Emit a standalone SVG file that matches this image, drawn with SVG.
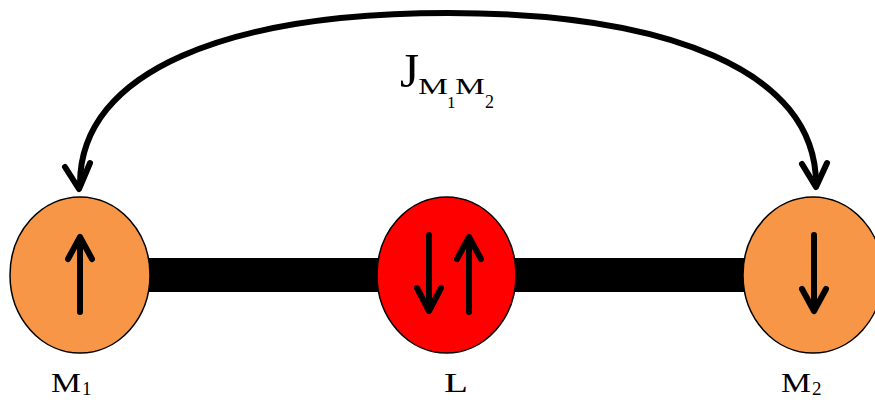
<svg xmlns="http://www.w3.org/2000/svg" width="875" height="406" viewBox="0 0 875 406">
<style>
.node-m{fill:#F79646;stroke:#000;stroke-width:1.5}
.node-l{fill:#FF0000;stroke:#000;stroke-width:1.5}
.spin{fill:none;stroke:#000;stroke-width:6;stroke-linecap:round;stroke-linejoin:round}
.conn{fill:none;stroke:#000;stroke-width:6;stroke-linecap:round;stroke-linejoin:round}
.lbl{font-family:"Liberation Serif","Times New Roman",serif;fill:#000}
</style>
<rect width="875" height="406" fill="#fff"/>
<g id="connectors">
  <rect id="bond" x="148" y="258" width="600" height="34" fill="#000"/>
  <path class="conn" d="M80,184 C80,70 230,13 448,13 C666,13 816,70 816,184"/>
  <path class="conn" d="M65,167 L79,189 L90,163"/>
  <path class="conn" d="M802,164 L816,187 L827,163"/>
</g>
<g id="label-J">
  <text class="lbl" x="400" y="87" font-size="49">J</text>
  <text class="lbl" x="418" y="94" font-size="23" textLength="30" lengthAdjust="spacingAndGlyphs">M</text>
  <text class="lbl" x="447" y="108" font-size="17">1</text>
  <text class="lbl" x="455" y="94" font-size="23" textLength="30" lengthAdjust="spacingAndGlyphs">M</text>
  <text class="lbl" x="485" y="108" font-size="18">2</text>
</g>
<g id="M1">
  <ellipse class="node-m" cx="80" cy="275" rx="70" ry="78"/>
  <path class="spin" d="M80,312 L80,238 M68,259 L80,237 L92,259"/>
  <text class="lbl" x="51" y="392" font-size="27" textLength="30" lengthAdjust="spacingAndGlyphs">M</text>
  <text class="lbl" x="82" y="395" font-size="19">1</text>
</g>
<g id="L">
  <ellipse class="node-l" cx="446.5" cy="275" rx="69.5" ry="78"/>
  <path class="spin" d="M429,235 L429,309 M417,288 L429,311 L441,288"/>
  <path class="spin" d="M469,312 L469,238 M457,259 L469,237 L481,259"/>
  <text class="lbl" x="444" y="392" font-size="27" textLength="24" lengthAdjust="spacingAndGlyphs">L</text>
</g>
<g id="M2">
  <ellipse class="node-m" cx="813" cy="275" rx="70" ry="78"/>
  <path class="spin" d="M814,235 L814,309 M802,289 L814,311 L826,289"/>
  <text class="lbl" x="781" y="392" font-size="27" textLength="30" lengthAdjust="spacingAndGlyphs">M</text>
  <text class="lbl" x="812" y="395" font-size="19">2</text>
</g>
</svg>
